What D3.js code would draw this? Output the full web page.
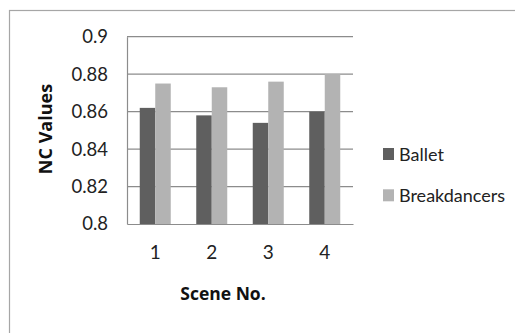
<!DOCTYPE html>
<html>
<head>
<meta charset="utf-8">
<script src="https://cdn.jsdelivr.net/npm/d3@7"></script>
<style>
  html, body { margin: 0; padding: 0; background: #fff; }
  svg { display: block; }
</style>
</head>
<body>
<svg id="chart" width="515" height="333"></svg>
<script>
// NC values per scene for the two test sequences
const scenes = ["1", "2", "3", "4"];
const seriesNames = ["Ballet", "Breakdancers"];
const ballet = [0.862, 0.858, 0.854, 0.860];
const breakdancers = [0.875, 0.873, 0.876, 0.880];
const yTicks = [0.8, 0.82, 0.84, 0.86, 0.88, 0.9];
const colors = ["#5f5f5f", "#b3b3b3"];

const svg = d3.select("#chart");
const W = 515, H = 333;
const plot = { left: 127, right: 353, top: 36.7, bottom: 224 };

// outer chart frame (runs off the right and bottom edges)
svg.append("rect")
  .attr("x", 9.5).attr("y", 10.5)
  .attr("width", W + 20).attr("height", H + 20)
  .attr("fill", "#fff").attr("stroke", "#a6a6a6").attr("stroke-width", 1.2);

const x0 = d3.scaleBand().domain(scenes).range([plot.left, plot.right]).paddingInner(0).paddingOuter(0);
const x1 = d3.scaleBand().domain(seriesNames).range([0, 31]);
const y = d3.scaleLinear().domain([0.8, 0.9]).range([plot.bottom, plot.top]);

// horizontal gridlines
svg.append("g")
  .selectAll("line")
  .data(yTicks.slice(1))
  .join("line")
  .attr("x1", plot.left).attr("x2", plot.right)
  .attr("y1", d => y(d)).attr("y2", d => y(d))
  .attr("stroke", "#8c8c8c").attr("stroke-width", 1.2);

// bars
const rows = scenes.map((s, i) => ({ scene: s, values: [ballet[i], breakdancers[i]] }));
const groups = svg.append("g").selectAll("g")
  .data(rows)
  .join("g")
  .attr("transform", d => `translate(${x0(d.scene) + (x0.bandwidth() - 31) / 2},0)`);
groups.selectAll("rect")
  .data(d => d.values.map((v, k) => ({ name: seriesNames[k], v, k })))
  .join("rect")
  .attr("x", d => x1(d.name))
  .attr("width", x1.bandwidth())
  .attr("y", d => y(d.v))
  .attr("height", d => y(0.8) - y(d.v))
  .attr("fill", d => colors[d.k]);

// y axis
const yAxis = svg.append("g")
  .attr("transform", `translate(${plot.left},0)`)
  .call(d3.axisLeft(y).tickValues(yTicks).tickSize(0).tickPadding(19).tickFormat(d => String(+d.toFixed(2))));
yAxis.select(".domain").attr("stroke", "#8c8c8c").attr("stroke-width", 1.2);
yAxis.selectAll("text")
  .attr("font-family", "Lato, sans-serif").attr("font-size", 18.5).attr("fill", "#222");

// x axis
const xAxis = svg.append("g")
  .attr("transform", `translate(0,${plot.bottom})`)
  .call(d3.axisBottom(x0).tickSize(0).tickPadding(22));
xAxis.select(".domain").attr("stroke", "#8c8c8c").attr("stroke-width", 1.2);
xAxis.selectAll("text")
  .attr("font-family", "Lato, sans-serif").attr("font-size", 19).attr("fill", "#222");

// axis titles
svg.append("text")
  .attr("x", 223).attr("y", 300)
  .attr("text-anchor", "middle")
  .attr("font-family", "'Open Sans', sans-serif").attr("font-weight", "bold")
  .attr("font-size", 17.5).attr("fill", "#111")
  .text("Scene No.");

svg.append("text")
  .attr("transform", "translate(52,129) rotate(-90)")
  .attr("text-anchor", "middle")
  .attr("font-family", "'Open Sans', sans-serif").attr("font-weight", "bold")
  .attr("font-size", 18).attr("fill", "#111")
  .text("NC Values");

// legend
const legend = svg.append("g").selectAll("g")
  .data(seriesNames)
  .join("g")
  .attr("transform", (d, i) => `translate(383,${148 + i * 41.3})`);
legend.append("rect")
  .attr("width", 11).attr("height", 12)
  .attr("fill", (d, i) => colors[i]);
legend.append("text")
  .attr("x", 16).attr("y", 13)
  .attr("font-family", "Lato, sans-serif").attr("font-size", 18).attr("fill", "#222")
  .text(d => d);
</script>
</body>
</html>
